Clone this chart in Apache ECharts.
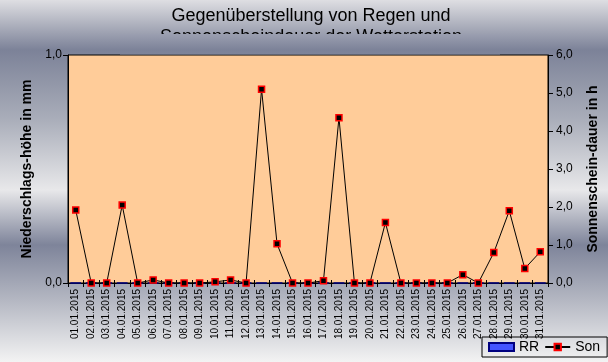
<!DOCTYPE html>
<html>
<head>
<meta charset="utf-8">
<script src="https://cdn.jsdelivr.net/npm/echarts@6/dist/echarts.min.js"></script>
<style>html,body{margin:0;padding:0;}#c{width:608px;height:362px;}</style>
</head>
<body>
<div id="c"></div>
<script>
var days = ['01.01.2015','02.01.2015','03.01.2015','04.01.2015','05.01.2015','06.01.2015','07.01.2015','08.01.2015','09.01.2015','10.01.2015','11.01.2015','12.01.2015','13.01.2015','14.01.2015','15.01.2015','16.01.2015','17.01.2015','18.01.2015','19.01.2015','20.01.2015','21.01.2015','22.01.2015','23.01.2015','24.01.2015','25.01.2015','26.01.2015','27.01.2015','28.01.2015','29.01.2015','30.01.2015','31.01.2015'];
var rr = [0,0,0,0,0,0,0,0,0,0,0,0,0,0,0,0,0,0,0,0,0,0,0,0,0,0,0,0,0,0,0];
var son = [1.92,0,0,2.05,0,0.08,0,0,0,0.03,0.08,0,5.1,1.03,0,0,0.06,4.35,0,0,1.59,0,0,0,0,0.22,0,0.8,1.9,0.38,0.82];
var titleLines = ['Gegenüberstellung von Regen und', 'Sonnenscheindauer der Wetterstation'];
var leftName = 'Niederschlags-höhe in mm';
var rightName = 'Sonnenschein-dauer in h';

var H = 362;
var bgStops = [[0,[222,222,226]],[50,[124,130,152]],[120,[170,174,186]],[190,[232,232,234]],[245,[126,132,154]],[300,[180,183,194]],[362,[243,243,243]]];
function colAt(y){
  for (var i=0;i<bgStops.length-1;i++){
    var a=bgStops[i], b=bgStops[i+1];
    if (y>=a[0] && y<=b[0]){
      var t=(y-a[0])/(b[0]-a[0]);
      var c=a[1].map(function(v,k){return Math.round(v+(b[1][k]-v)*t);});
      return 'rgb('+c.join(',')+')';
    }
  }
  return 'rgb(243,243,243)';
}
var bgGrad = {type:'linear',x:0,y:0,x2:0,y2:1,colorStops:bgStops.map(function(s){return {offset:s[0]/H,color:'rgb('+s[1].join(',')+')'};})};
var cy0=34, cy1=54.5;
var coverGrad = {type:'linear',x:0,y:0,x2:0,y2:1,colorStops:[{offset:0,color:colAt(cy0)},{offset:(50-cy0)/(cy1-cy0),color:colAt(50)},{offset:1,color:colAt(cy1)}]};

function fmt(v){return v.toFixed(1).replace('.',',');}
var font = 'Liberation Sans';

var chart = echarts.init(document.getElementById('c'));
chart.setOption({
  backgroundColor: bgGrad,
  animation: false,
  textStyle: {fontFamily: font},
  title: {
    text: titleLines.join('\n'),
    left: 311, top: 6, padding: 0, textAlign: 'center',
    textStyle: {fontFamily: font, fontSize: 18, fontWeight: 'normal', color: '#000', lineHeight: 21}
  },
  graphic: [{type:'rect', z: 100, shape:{x:120,y:cy0,width:380,height:cy1-cy0}, style:{fill:coverGrad}}],
  legend: {
    data: [{name:'RR', icon:'rect'}, {name:'Son'}], left: 482, top: 337,
    borderColor: '#000', borderWidth: 1, padding: [3,7,3,6], itemGap: 5,
    itemWidth: 25, itemHeight: 8,
    textStyle: {fontFamily: font, fontSize: 14, color:'#000'}
  },
  grid: {left: 68, right: 58, top: 55, bottom: 79, show: true, backgroundColor: '#ffcc99', borderColor: '#000', borderWidth: 1},
  xAxis: [{
    type: 'category', data: days, boundaryGap: true,
    axisLine: {lineStyle: {color:'#000', width: 1}},
    axisTick: {show: true, interval: 0, length: 4, lineStyle:{color:'#000'}},
    axisLabel: {interval: 0, rotate: 90, fontSize: 10, color: '#000', margin: 6, fontFamily: font}
  },{
    type: 'category', data: days, boundaryGap: true, position: 'top', offset: -228,
    axisLine: {show: false},
    axisTick: {show: true, interval: 0, length: 3, lineStyle:{color:'#000'}},
    axisLabel: {show: false}
  }],
  yAxis: [{
    type: 'value', min: 0, max: 1, interval: 1, position: 'left',
    name: leftName, nameLocation: 'middle', nameGap: 29,
    nameTextStyle: {fontFamily: font, fontSize: 14, fontWeight: 'bold', color:'#000'},
    axisLine: {show: true, lineStyle:{color:'#000'}},
    axisTick: {show: true, length: 5, lineStyle:{color:'#000'}},
    axisLabel: {formatter: fmt, fontSize: 12, color:'#000', margin: 6},
    splitLine: {show: false}
  },{
    type: 'value', min: 0, max: 6, interval: 1, position: 'right',
    name: rightName, nameLocation: 'middle', nameGap: 38,
    nameTextStyle: {fontFamily: font, fontSize: 14, fontWeight: 'bold', color:'#000'},
    axisLine: {show: true, lineStyle:{color:'#000'}},
    axisTick: {show: true, length: 5, lineStyle:{color:'#000'}},
    axisLabel: {formatter: fmt, fontSize: 12, color:'#000', margin: 8},
    splitLine: {show: false}
  }],
  series: [{
    name: 'RR', type: 'bar', data: rr, yAxisIndex: 0,
    itemStyle: {color: '#4455ff', borderColor: '#000080', borderWidth: 1}
  },{
    name: 'Son', type: 'line', data: son, yAxisIndex: 1,
    symbol: 'rect', symbolSize: 6,
    lineStyle: {color: '#000', width: 1},
    itemStyle: {color: '#000', borderColor: '#ff0000', borderWidth: 1.5}
  }]
});
</script>
</body>
</html>
